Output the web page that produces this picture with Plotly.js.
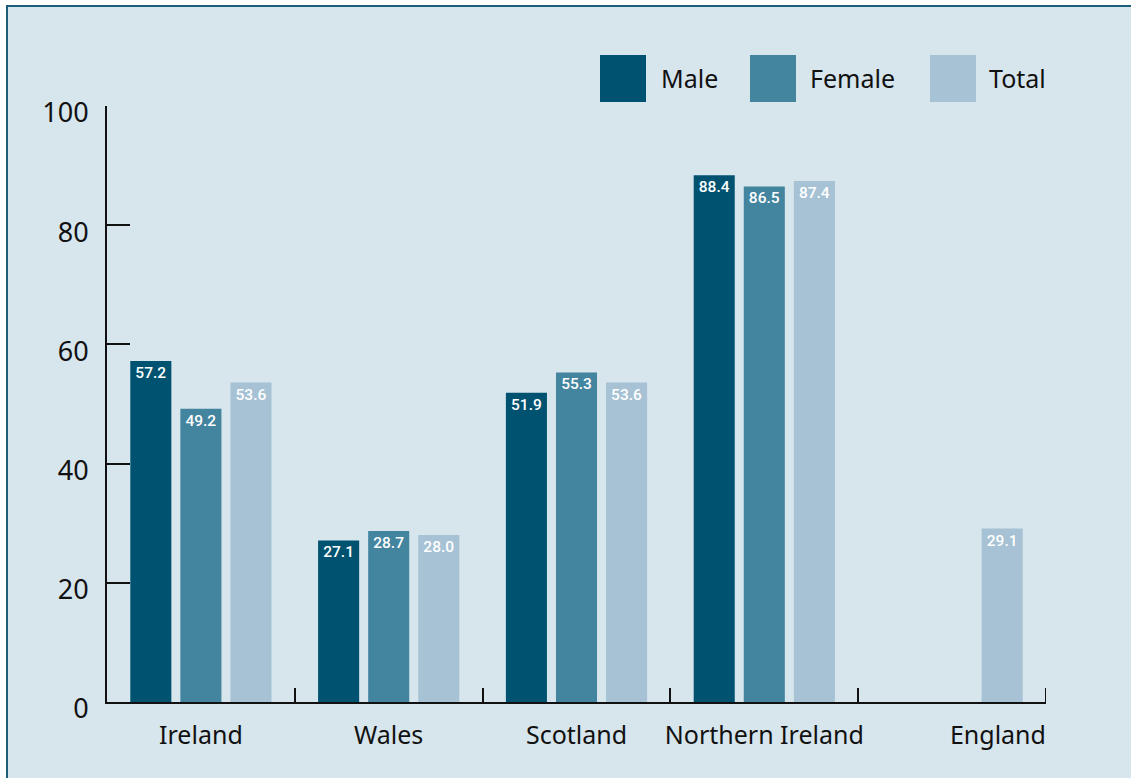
<!DOCTYPE html>
<html>
<head>
<meta charset="utf-8">
<script src="https://cdn.plot.ly/plotly-3.0.1.min.js"></script>
<style>
html,body{margin:0;padding:0;background:#ffffff;width:1131px;height:778px;overflow:hidden;}
#frame{position:absolute;left:6px;top:5px;width:1125px;height:773px;border-left:2px solid #1d5d7c;border-top:2px solid #1d5d7c;background:#d7e5ed;}
#chart{width:1125px;height:773px;}
</style>
</head>
<body>
<div id="frame"><div id="chart"></div></div>
<script>
const categories = ["Ireland", "Wales", "Scotland", "Northern Ireland", "England"];
const maleValues = [57.2, 27.1, 51.9, 88.4, null];
const femaleValues = [49.2, 28.7, 55.3, 86.5, null];
const totalValues = [53.6, 28.0, 53.6, 87.4, 29.1];
const seriesNames = ["Male", "Female", "Total"];
const seriesColors = ["#005370", "#43849f", "#a6c2d4"];
const yTicks = [0, 20, 40, 60, 80, 100];

const seriesValues = [maleValues, femaleValues, totalValues];
const labelFont = {family: "Roboto, 'Open Sans', sans-serif", size: 15.5, color: "#ffffff", weight: 500};
const traces = seriesValues.map((vals, i) => ({
  type: "bar",
  name: seriesNames[i],
  x: categories,
  y: vals,
  marker: {color: seriesColors[i]},
  text: vals.map(v => v == null ? "" : v.toFixed(1)),
  textposition: "inside",
  insidetextanchor: "end",
  textangle: 0,
  constraintext: "none",
  textfont: labelFont,
  hoverinfo: "x+y+name",
  showlegend: false
}));

// Custom large-swatch legend (shapes + annotations in paper coordinates)
const W = 1125, H = 773;
const ml = 99, mr = 87, mt = 99, mb = 78;
const pw = W - ml - mr, ph = H - mt - mb;
function px2x(p){ return (p - 8 - ml) / pw; }
function py2y(p){ return 1 - (p - 7 - mt) / ph; }
const legendX = [600, 750, 930];
const textX = [659, 808, 987];
const shapes = [];
const annotations = [];
seriesNames.forEach((n, i) => {
  shapes.push({type: "rect", xref: "paper", yref: "paper",
    x0: px2x(legendX[i]), x1: px2x(legendX[i] + 46),
    y0: py2y(102), y1: py2y(55),
    fillcolor: seriesColors[i], line: {width: 0}});
  annotations.push({xref: "paper", yref: "paper", x: px2x(textX[i]), y: py2y(78),
    xanchor: "left", yanchor: "middle", text: n, showarrow: false,
    font: {family: "'Noto Sans', 'Open Sans', sans-serif", size: 25, color: "#111111"}});
});
// closing boundary tick at the right end of the category axis
shapes.push({type: "line", xref: "x", yref: "paper", x0: categories.length - 0.5, x1: categories.length - 0.5,
  y0: 0, y1: 14 / ph, line: {color: "#111111", width: 2}});

// the last category label sits right of its group centre in the reference
const tickText = categories.map((c, i) => i === categories.length - 1 ? "\u2003\u2003\u2003\u2002\u2009" + c : c);

const layout = {
  width: W, height: H,
  paper_bgcolor: "#d7e5ed",
  plot_bgcolor: "#d7e5ed",
  margin: {l: ml, r: mr, t: mt, b: mb, pad: 0},
  barmode: "group",
  bargap: 0.2,
  bargroupgap: 0.18,
  showlegend: false,
  font: {family: "'Noto Sans', 'Open Sans', sans-serif", size: 24, color: "#111111"},
  xaxis: {
    type: "category",
    range: [-0.5, 4.5],
    tickvals: categories,
    ticktext: tickText,
    showline: true, linecolor: "#111111", linewidth: 2,
    ticks: "inside", tickson: "boundaries", ticklen: 14, tickwidth: 2, tickcolor: "#111111",
    showgrid: false, zeroline: false,
    tickangle: 0,
    automargin: false,
    ticklabelstandoff: 10,
    tickfont: {size: 25, color: "#111111"}
  },
  yaxis: {
    range: [0, 100],
    tickvals: yTicks,
    ticktext: yTicks.map(String),
    showline: true, linecolor: "#111111", linewidth: 2,
    ticks: "inside", ticklen: 23, tickwidth: 2, tickcolor: "#111111",
    showgrid: false, zeroline: false,
    automargin: false,
    ticklabelstandoff: 11,
    ticklabelshift: 7,
    tickfont: {size: 27, color: "#111111"}
  },
  shapes: shapes,
  annotations: annotations
};

Plotly.newPlot("chart", traces, layout, {displayModeBar: false, staticPlot: true});
</script>
</body>
</html>
